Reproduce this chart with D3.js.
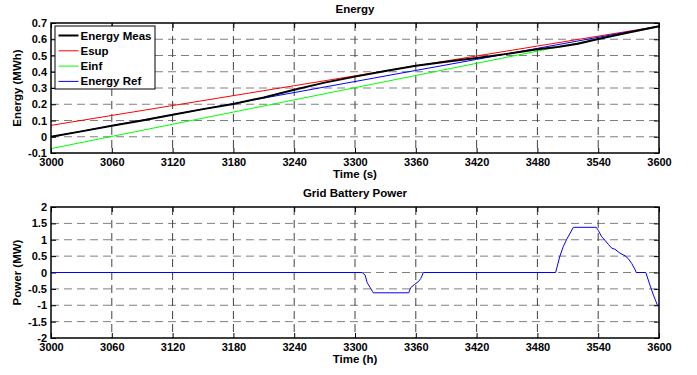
<!DOCTYPE html>
<html lang="en">
<head>
  <meta charset="UTF-8">
  <title>Energy / Grid Battery Power</title>
  <script src="https://d3js.org/d3.v7.min.js"></script>
  <style>
    body { margin: 0; background: #fff; }
    text {
      font-family: "Liberation Sans", Arial, sans-serif;
      font-size: 11.5px;
      font-weight: bold;
      fill: #000;
    }
    .grid-h { stroke: #808080; stroke-dasharray: 8,5; }
    .grid-v { stroke: #404040; stroke-dasharray: 8,5; }
  </style>
</head>
<body>
  <script>
    // time ticks shared by both panels
    const timeTicks = [3000, 3060, 3120, 3180, 3240, 3300, 3360, 3420, 3480, 3540, 3600];

    // energy panel (MWh), read at the tick times
    const energyRefTime = [3000, 3060, 3120, 3180, 3240, 3300, 3360, 3420, 3480, 3540, 3600];
    const esup = [0.07, 0.131, 0.192, 0.253, 0.314, 0.375, 0.436, 0.497, 0.558, 0.619, 0.68];
    const einf = [-0.073, 0.002, 0.077, 0.152, 0.227, 0.302, 0.377, 0.452, 0.527, 0.602, 0.677];
    const energyRef = [0, 0.068, 0.136, 0.204, 0.272, 0.34, 0.408, 0.476, 0.544, 0.612, 0.68];

    const measTime = [3000, 3030, 3060, 3090, 3120, 3150, 3180, 3210, 3240, 3270, 3300, 3330,
                      3360, 3390, 3420, 3450, 3480, 3500, 3520, 3540, 3570, 3600];
    const energyMeas = [0, 0.033, 0.068, 0.1, 0.136, 0.17, 0.202, 0.242, 0.289, 0.333, 0.37, 0.405,
                        0.437, 0.462, 0.484, 0.51, 0.538, 0.553, 0.572, 0.602, 0.641, 0.68];

    // grid battery power (MW)
    const powerTime = [3000, 3307, 3310, 3312, 3315, 3317.5, 3318, 3353, 3355, 3359, 3362.5, 3365, 3367.5,
                       3498, 3502, 3505.5, 3509, 3515.5, 3538, 3540, 3543.5, 3546.5, 3550, 3553.5,
                       3556.5, 3561.5, 3566.5, 3569.5, 3573, 3576.5, 3577.5, 3587, 3591, 3594.5, 3598.5, 3600];
    const power = [0, 0, -0.08, -0.31, -0.46, -0.59, -0.62, -0.62, -0.46, -0.36, -0.28, -0.18, 0,
                   0, 0.48, 0.79, 1.02, 1.38, 1.38, 1.29, 1.09, 0.99, 0.86, 0.74,
                   0.71, 0.59, 0.51, 0.43, 0.28, 0.08, 0, 0, -0.38, -0.69, -1.0, -1.0];

    const energyTicks = [-0.1, 0, 0.1, 0.2, 0.3, 0.4, 0.5, 0.6, 0.7];
    const powerTicks = [-2, -1.5, -1, -0.5, 0, 0.5, 1, 1.5, 2];

    const width = 697, height = 375;
    const svg = d3.select('body').append('svg')
      .attr('width', width)
      .attr('height', height);

    const x = d3.scaleLinear().domain([3000, 3600]).range([51, 659]);

    function panel(cfg) {
      const y = d3.scaleLinear().domain(cfg.yDomain).range([cfg.bottom, cfg.top]);
      const g = svg.append('g');

      // grid
      g.selectAll('.grid-h').data(cfg.yTicks.slice(1, -1)).enter().append('line')
        .attr('class', 'grid-h')
        .attr('x1', x(3000)).attr('x2', x(3600))
        .attr('y1', d => y(d)).attr('y2', d => y(d));
      g.selectAll('.grid-v').data(timeTicks.slice(1, -1)).enter().append('line')
        .attr('class', 'grid-v')
        .attr('x1', d => x(d)).attr('x2', d => x(d))
        .attr('y1', cfg.top).attr('y2', cfg.bottom);

      // axes with inward ticks
      const fmtY = d => String(d);
      g.append('g').attr('transform', `translate(${x(3000)},0)`)
        .call(d3.axisLeft(y).tickValues(cfg.yTicks).tickSizeInner(-5).tickSizeOuter(0).tickPadding(4).tickFormat(fmtY));
      g.append('g').attr('transform', `translate(${x(3600)},0)`)
        .call(d3.axisRight(y).tickValues(cfg.yTicks).tickSizeInner(-5).tickSizeOuter(0).tickFormat(''));
      g.append('g').attr('transform', `translate(0,${cfg.bottom})`)
        .call(d3.axisBottom(x).tickValues(timeTicks).tickSizeInner(-5).tickSizeOuter(0).tickPadding(5).tickFormat(d3.format('d')));
      g.append('g').attr('transform', `translate(0,${cfg.top})`)
        .call(d3.axisTop(x).tickValues(timeTicks).tickSizeInner(-5).tickSizeOuter(0).tickFormat(''));
      g.selectAll('.domain').remove();
      g.selectAll('.tick line').attr('stroke', '#000');
      g.selectAll('.tick text').style('font-size', '11px').style('font-weight', 'bold')
        .style('font-family', '"Liberation Sans", Arial, sans-serif').attr('fill', '#000');

      // series
      cfg.series.forEach(s => {
        const line = d3.line().x((d, i) => x(s.t[i])).y(d => y(d));
        g.append('path')
          .datum(s.v)
          .attr('fill', 'none')
          .attr('stroke', s.color)
          .attr('stroke-width', s.w)
          .attr('stroke-linejoin', 'round')
          .attr('d', line);
      });

      // frame
      g.append('rect')
        .attr('x', x(3000)).attr('y', cfg.top)
        .attr('width', x(3600) - x(3000)).attr('height', cfg.bottom - cfg.top)
        .attr('fill', 'none').attr('stroke', '#000').attr('stroke-width', 1.5);

      // labels
      g.append('text').attr('x', (x(3000) + x(3600)) / 2).attr('y', cfg.top - 10)
        .attr('text-anchor', 'middle').text(cfg.title);
      g.append('text').attr('x', (x(3000) + x(3600)) / 2).attr('y', cfg.bottom + 25)
        .attr('text-anchor', 'middle').text(cfg.xLabel);
      g.append('text')
        .attr('transform', `translate(21,${(cfg.top + cfg.bottom) / 2}) rotate(-90)`)
        .attr('text-anchor', 'middle').text(cfg.yLabel);
      return { g, y };
    }

    const energyPanel = panel({
      top: 23, bottom: 153, yDomain: [-0.1, 0.7], yTicks: energyTicks,
      title: 'Energy', xLabel: 'Time (s)', yLabel: 'Energy (MWh)',
      series: [
        { t: energyRefTime, v: esup, color: '#ff0000', w: 1 },
        { t: energyRefTime, v: einf, color: '#00ff00', w: 1 },
        { t: energyRefTime, v: energyRef, color: '#0000ff', w: 1 },
        { t: measTime, v: energyMeas, color: '#000000', w: 2 }
      ]
    });

    panel({
      top: 207, bottom: 338, yDomain: [-2, 2], yTicks: powerTicks,
      title: 'Grid Battery Power', xLabel: 'Time (h)', yLabel: 'Power (MW)',
      series: [{ t: powerTime, v: power, color: '#0000ff', w: 1 }]
    });

    // legend
    const legendItems = [
      { name: 'Energy Meas', color: '#000000', w: 2 },
      { name: 'Esup', color: '#ff0000', w: 1 },
      { name: 'Einf', color: '#00ff00', w: 1 },
      { name: 'Energy Ref', color: '#0000ff', w: 1 }
    ];
    const lg = energyPanel.g.append('g').attr('transform', 'translate(55,26)');
    lg.append('rect').attr('width', 100).attr('height', 63)
      .attr('fill', '#fff').attr('stroke', '#000').attr('stroke-width', 1);
    legendItems.forEach((d, i) => {
      const cy = 9.5 + i * 15.3;
      lg.append('line').attr('x1', 3.5).attr('x2', 23.5).attr('y1', cy).attr('y2', cy)
        .attr('stroke', d.color).attr('stroke-width', d.w);
      lg.append('text').attr('x', 25.5).attr('y', cy + 4).text(d.name);
    });
  </script>
</body>
</html>
